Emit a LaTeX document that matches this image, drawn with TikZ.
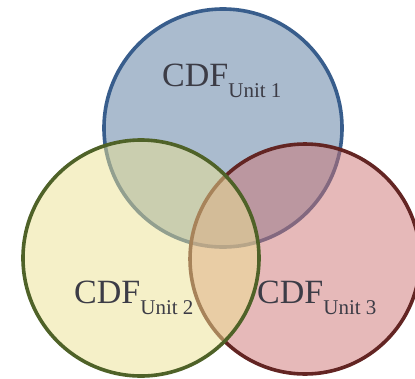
\documentclass[tikz,border=0pt]{standalone}
\usepackage{fontspec}
\setmainfont{Liberation Serif}
\usepackage{tikz}
\usetikzlibrary{positioning}
\definecolor{unitoneedge}{RGB}{56,93,140}
\definecolor{unitonefill}{RGB}{85,119,157}
\definecolor{unittwoedge}{RGB}{79,98,40}
\definecolor{unittwofill}{RGB}{236,226,146}
\definecolor{unitthreeedge}{RGB}{99,37,35}
\definecolor{unitthreefill}{RGB}{206,116,116}
\definecolor{labeltext}{RGB}{60,60,70}
\tikzset{
unit/.style={line width=3.6pt, fill opacity=0.5}, % common look of the three circles
cdf/.style={anchor=base west, inner sep=0pt, text=labeltext, font=\fontsize{34}{34}\selectfont},
}
\newcommand{\cdfunit}[1]{CDF\raisebox{-11pt}{\fontsize{21}{21}\selectfont Unit #1}}
\def\firstcirc{(223,128) circle [radius=119]}
\def\secondcirc{(141,258) circle [radius=118]}
\def\thirdcirc{(305,259) circle [radius=115]}
\def\bounding{(0,0) rectangle (415,378)}

\begin{document}
\begin{tikzpicture}[x=1pt, y=-1pt]
    \useasboundingbox \bounding;

    %circles, blue first, green on top
    \filldraw[unit, draw=unitoneedge, fill=unitonefill] \firstcirc;
    \filldraw[unit, draw=unitthreeedge, fill=unitthreefill] \thirdcirc;
    \filldraw[unit, draw=unittwoedge, fill=unittwofill] \secondcirc;

    \node[cdf] (unitone) at (162,86) {\cdfunit{1}};
    \node[cdf] (unittwo) at (74,303) {\cdfunit{2}};
    \node[cdf] (unitthree) at (257,303) {\cdfunit{3}};

\end{tikzpicture}
\end{document}
